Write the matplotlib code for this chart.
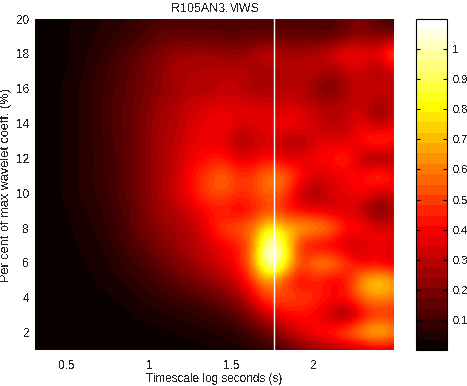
import numpy as np
import matplotlib
matplotlib.use('Agg')
import matplotlib.pyplot as plt
from matplotlib.cm import ScalarMappable
from matplotlib.colors import Normalize

title = 'R105AN3.MWS'
xlabel = 'Timescale log seconds (s)'
ylabel = 'Per cent of max wavelet coeff. (%)'
xticks = [0.5, 1, 1.5, 2]
yticks = [2, 4, 6, 8, 10, 12, 14, 16, 18, 20]
cticks = [0.1, 0.2, 0.3, 0.4, 0.5, 0.6, 0.7, 0.8, 0.9, 1]
marker_x = 1.755

scales = [0.306, 0.401, 0.496, 0.590, 0.685, 0.780, 0.875, 0.970, 1.064, 1.159, 1.254, 1.349,
          1.443, 1.538, 1.633, 1.728, 1.822, 1.917, 2.012, 2.107, 2.201, 2.296, 2.391, 2.485]
percent = [20, 19, 18, 17, 16, 15, 14, 13, 12, 11, 10, 9, 8, 7, 6, 5, 4, 3, 2, 1]

p20 = [.005,.01,.02,.03,.04,.05,.07,.09,.11,.11,.12,.12,.12,.12,.12,.12,.13,.12,.13,.12,.16,.20,.12,.08]
p19 = [.005,.01,.02,.03,.05,.07,.09,.12,.15,.16,.15,.14,.14,.14,.14,.14,.14,.15,.14,.12,.18,.22,.20,.20]
p18 = [.005,.01,.02,.04,.06,.09,.12,.16,.20,.24,.25,.26,.24,.22,.28,.34,.28,.27,.30,.36,.44,.40,.38,.62]
p17 = [.005,.01,.02,.04,.07,.11,.14,.18,.22,.28,.28,.28,.30,.30,.27,.24,.28,.30,.30,.24,.30,.32,.24,.30]
p16 = [.005,.01,.03,.05,.08,.11,.14,.18,.22,.25,.28,.27,.30,.30,.25,.26,.30,.28,.22,.15,.27,.33,.33,.32]
p15 = [.005,.01,.03,.05,.08,.12,.15,.19,.25,.28,.33,.34,.36,.35,.36,.33,.33,.33,.30,.28,.32,.32,.22,.30]
p14 = [.005,.01,.03,.05,.08,.12,.15,.20,.26,.28,.34,.38,.42,.36,.35,.38,.42,.40,.33,.27,.30,.38,.24,.36]
p13 = [.005,.01,.03,.05,.08,.11,.15,.20,.27,.30,.36,.38,.36,.25,.30,.34,.27,.25,.34,.36,.34,.44,.56,.46]
p12 = [.005,.01,.03,.05,.07,.11,.15,.20,.26,.30,.38,.42,.44,.36,.36,.42,.34,.36,.42,.42,.50,.24,.20,.22]
p11 = [.005,.01,.03,.05,.08,.11,.15,.20,.27,.32,.42,.50,.60,.48,.50,.64,.60,.44,.34,.36,.38,.42,.56,.44]
p10 = [.005,.01,.03,.05,.07,.10,.15,.20,.27,.32,.42,.50,.55,.48,.50,.58,.52,.30,.23,.34,.38,.42,.30,.34]
p9 = [.005,.01,.02,.04,.06,.09,.13,.19,.25,.29,.34,.42,.42,.36,.42,.52,.42,.38,.36,.32,.34,.28,.14,.28]
p8 = [.005,.01,.02,.03,.05,.08,.13,.18,.22,.26,.28,.38,.52,.56,.60,.84,.74,.72,.70,.64,.42,.46,.34,.36]
p7 = [.005,.005,.01,.03,.04,.07,.11,.15,.20,.24,.29,.32,.38,.42,.58,1.16,.86,.42,.34,.32,.30,.30,.44,.34]
p6 = [.005,.005,.01,.02,.03,.05,.08,.11,.15,.20,.24,.30,.35,.42,.64,1.18,.90,.50,.66,.68,.50,.36,.36,.30]
p5 = [.005,.005,.01,.015,.025,.04,.06,.08,.11,.15,.18,.22,.27,.33,.50,.66,.50,.36,.45,.34,.40,.70,.80,.70]
p4 = [.005,.005,.005,.01,.015,.02,.03,.05,.07,.09,.11,.14,.18,.24,.38,.54,.52,.52,.48,.44,.46,.60,.65,.60]
p3 = [.005,.005,.005,.005,.01,.01,.02,.03,.04,.05,.06,.08,.10,.14,.22,.34,.40,.42,.38,.26,.16,.36,.44,.42]
p2 = [0,0,0,0,.005,.005,.005,.01,.015,.02,.03,.04,.05,.07,.11,.16,.26,.36,.44,.50,.62,.72,.82,.68]
p1 = [0,0,0,0,0,0,0,.005,.005,.01,.01,.015,.02,.03,.05,.08,.12,.17,.20,.22,.24,.27,.30,.30]

rows = [p20, p19, p18, p17, p16, p15, p14, p13, p12, p11, p10, p9, p8, p7, p6, p5, p4, p3, p2, p1]

plt.rcParams['font.family'] = ['Liberation Sans', 'DejaVu Sans']
plt.rcParams['font.size'] = 8.5
plt.rcParams['text.antialiased'] = False

W, H = 467, 386
fig = plt.figure(figsize=(W / 100, H / 100), dpi=100)
ax = fig.add_axes([35 / W, (H - 350) / H, 359 / W, 331 / H])
norm = Normalize(0, 1.1)

Z = np.array(rows)
dx = (scales[-1] - scales[0]) / (len(scales) - 1) / 2
ext = [scales[0] - dx, scales[-1] + dx, percent[-1] - 0.5, percent[0] + 0.5]
im = ax.imshow(Z, extent=ext, aspect='auto', cmap=plt.get_cmap('hot', 48), norm=norm,
               interpolation='bicubic', interpolation_stage='data')
ax.axvline(marker_x, color='white', lw=1.0)
ax.set_xlim(scales[0], scales[-1])
ax.set_ylim(percent[-1], percent[0])
ax.set_xticks(xticks, [f'{t:g}' for t in xticks])
ax.set_yticks(yticks)
ax.tick_params(length=0, pad=7, labelcolor='#222222')
ax.tick_params(axis='y', pad=4)
ax.set_title(title, fontsize=9, color='#222222', pad=5)
ax.set_xlabel(xlabel, color='#222222', labelpad=1)
ax.set_ylabel(ylabel, fontsize=9.2, color='#222222', labelpad=3)
for s in ['top', 'right', 'left', 'bottom']:
    ax.spines[s].set_visible(False)

cax = fig.add_axes([416 / W, (H - 350) / H, 31 / W, 331 / H])
cb = fig.colorbar(ScalarMappable(norm=norm, cmap=plt.get_cmap('hot', 32)), cax=cax)
cb.set_ticks(cticks, labels=[f'{t:g}' for t in cticks])
cax.tick_params(direction='in', left=True, right=True, length=3, width=0.8, pad=4, labelcolor='#222222', labelsize=8)
cb.outline.set_linewidth(0.8)
fig.savefig('out.png', dpi=100)
